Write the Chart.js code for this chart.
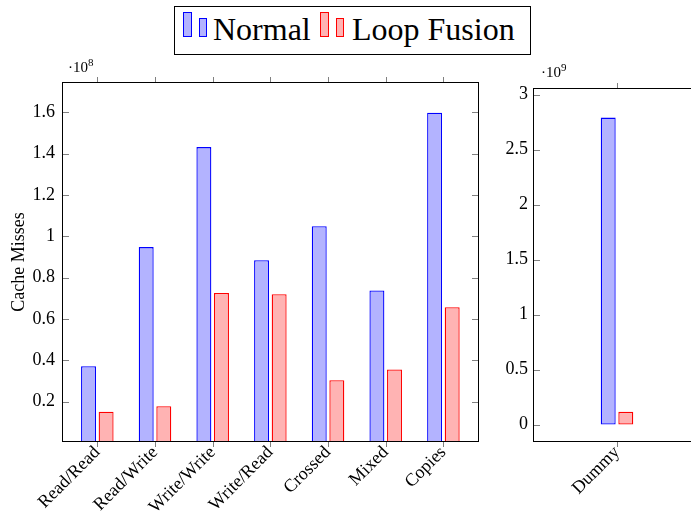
<!DOCTYPE html>
<html>
<head>
<meta charset="utf-8">
<script src="https://cdn.jsdelivr.net/npm/chart.js@4"></script>
<style>
    * { box-sizing: border-box; }
    body { margin: 0; width: 691px; height: 521px; overflow: hidden; background: #fff; position: relative; }
    canvas { position: absolute; top: 0; }
    #leftChart { left: 0; }
    #rightChart { left: 480px; }
    #legend { position: absolute; left: 174px; top: 6px; width: 357px; height: 49px; border: 1px solid #000; background: #fff; }
    .icon { position: absolute; border: 1px solid; }
    .blue { background: #b3b3ff; border-color: #0000ff; }
    .red { background: #ffb3b3; border-color: #ff0000; }
    .tall { top: 5px; height: 25px; width: 9px; }
    .short { top: 11px; height: 19px; width: 8px; }
    .label { position: absolute; top: 6px; font-family: 'Liberation Serif'; font-size: 32px; line-height: 32px; color: #000; white-space: nowrap; }
</style>
</head>
<body>
<canvas id="leftChart" width="482" height="521"></canvas>
<canvas id="rightChart" width="222" height="521"></canvas>
<div id="legend">
    <span class="icon blue tall" style="left: 8px;"></span>
    <span class="icon blue short" style="left: 24px;"></span>
    <span class="label" style="left: 38px;">Normal</span>
    <span class="icon red tall" style="left: 145px;"></span>
    <span class="icon red short" style="left: 161px;"></span>
    <span class="label" style="left: 177px;">Loop Fusion</span>
</div>
<script>
// left panel, values in units of 1e8
const categories = ['Read/Read', 'Read/Write', 'Write/Write', 'Write/Read', 'Crossed', 'Mixed', 'Copies'];
const normalMisses = [0.372, 0.948, 1.432, 0.885, 1.049, 0.738, 1.598];
const fusionMisses = [0.152, 0.178, 0.726, 0.720, 0.304, 0.356, 0.657];
const leftTicks = [0.2, 0.4, 0.6, 0.8, 1, 1.2, 1.4, 1.6];

// right panel, values in units of 1e9
const dummyCategories = ['Dummy'];
const dummyNormal = [2.79];
const dummyFusion = [0.115];
const rightTicks = [0, 0.5, 1, 1.5, 2, 2.5, 3];

const SERIF = "'Liberation Serif'";
const FONT = { family: SERIF, size: 18 };
const BLUE_FILL = '#b3b3ff', BLUE_LINE = '#0000ff';
const RED_FILL = '#ffb3b3', RED_LINE = '#ff0000';

// frame, inner tick marks and the ·10^n label
const framePlugin = {
    id: 'frame',
    afterDraw(chart, args, opts) {
        const { ctx, chartArea: a, scales } = chart;
        ctx.save();
        ctx.strokeStyle = '#808080';
        ctx.lineWidth = 1;
        ctx.beginPath();
        scales.y.ticks.forEach(t => {
            const y = Math.round(scales.y.getPixelForValue(t.value)) + 0.5;
            ctx.moveTo(a.left, y); ctx.lineTo(a.left + 6, y);
            ctx.moveTo(a.right, y); ctx.lineTo(a.right - 6, y);
        });
        scales.x.ticks.forEach(t => {
            const x = Math.round(scales.x.getPixelForValue(t.value)) + 0.5;
            ctx.moveTo(x, a.bottom); ctx.lineTo(x, a.bottom + 6);
            ctx.moveTo(x, a.top); ctx.lineTo(x, a.top - 6);
        });
        ctx.stroke();

        ctx.strokeStyle = '#000';
        ctx.strokeRect(Math.round(a.left) - 0.5, Math.round(a.top) - 0.5,
            Math.round(a.right - a.left) + 1, Math.round(a.bottom - a.top) + 1);

        ctx.fillStyle = '#000';
        ctx.textBaseline = 'alphabetic';
        ctx.textAlign = 'left';
        ctx.font = '15px ' + SERIF;
        ctx.fillText('·10', opts.mx, opts.my);
        const w = ctx.measureText('·10').width;
        ctx.font = '11px ' + SERIF;
        ctx.fillText(opts.exp, opts.mx + w, opts.my - 6);
        ctx.restore();
    }
};

function barSet(label, cats, values, fill, line) {
    return {
        label: label,
        data: cats.map((c, i) => ({ x: i, y: values[i] })),
        backgroundColor: fill,
        borderColor: line,
        borderWidth: 1.3,
        borderSkipped: false,
        inflateAmount: 0
    };
}

function makeChart(id, cats, normal, fusion, yTicks, o) {
    return new Chart(document.getElementById(id), {
        type: 'bar',
        data: {
            datasets: [
                barSet('Normal', cats, normal, BLUE_FILL, BLUE_LINE),
                barSet('Loop Fusion', cats, fusion, RED_FILL, RED_LINE)
            ]
        },
        options: {
            responsive: false,
            animation: false,
            categoryPercentage: o.catPct,
            barPercentage: 0.85,
            layout: { padding: { top: o.top, right: o.right, left: 0, bottom: 0 } },
            plugins: {
                legend: { display: false },
                tooltip: { enabled: false },
                frame: { mx: o.mx, my: o.my, exp: o.exp }
            },
            scales: {
                x: {
                    type: 'linear',
                    offset: false,
                    min: o.xMin,
                    max: o.xMax,
                    grid: { display: false, drawTicks: false },
                    border: { display: false },
                    afterBuildTicks: s => { s.ticks = cats.map((c, i) => ({ value: i })); },
                    afterFit: s => { s.height = 80; },
                    ticks: {
                        callback: v => cats[v],
                        minRotation: 45,
                        maxRotation: 45,
                        autoSkip: false,
                        padding: 1,
                        color: '#000',
                        font: FONT
                    }
                },
                y: {
                    min: o.yMin,
                    max: o.yMax,
                    grid: { display: false, drawTicks: false },
                    border: { display: false },
                    afterBuildTicks: s => { s.ticks = yTicks.map(v => ({ value: v })); },
                    afterFit: s => { s.width = o.yWidth; },
                    ticks: {
                        callback: v => String(Number(v.toFixed(1))),
                        padding: o.yPad,
                        color: '#000',
                        font: FONT
                    },
                    title: {
                        display: !!o.yTitle,
                        text: o.yTitle || '',
                        color: '#000',
                        font: FONT,
                        padding: { top: 8, bottom: 0 }
                    }
                }
            }
        },
        plugins: [framePlugin]
    });
}

makeChart('leftChart', categories, normalMisses, fusionMisses, leftTicks, {
    catPct: 0.61, top: 83, right: 4, xMin: -0.595, xMax: 6.6,
    yMin: 0.01, yMax: 1.742, yWidth: 63, yPad: 8, yTitle: 'Cache Misses',
    mx: 68, my: 72, exp: '8'
});

makeChart('rightChart', dummyCategories, dummyNormal, dummyFusion, rightTicks, {
    catPct: 0.212, top: 89, right: 2, xMin: -1, xMax: 1,
    yMin: -0.15, yMax: 3.05, yWidth: 54, yPad: 6, yTitle: '',
    mx: 61, my: 77, exp: '9'
});
</script>
</body>
</html>
